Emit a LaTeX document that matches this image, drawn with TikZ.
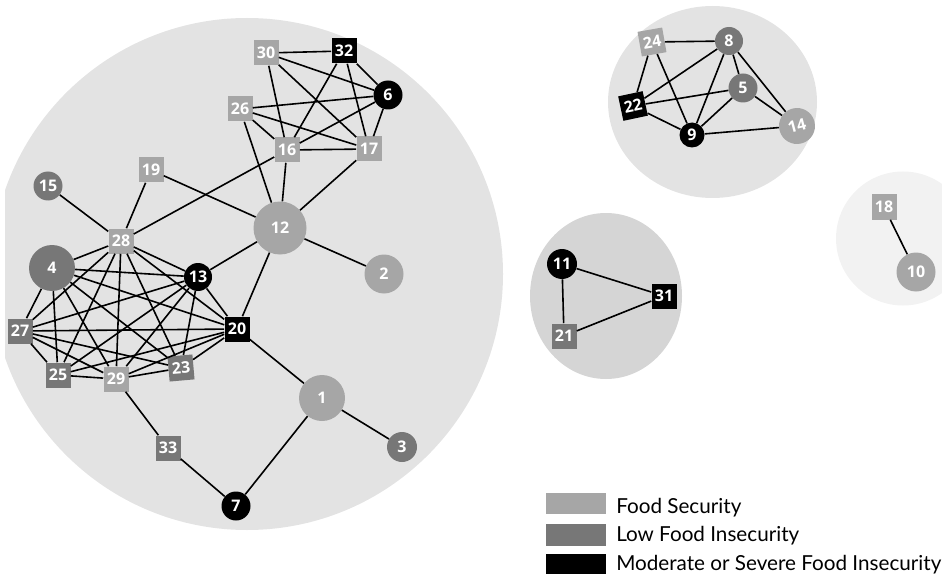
\documentclass[tikz,border=0pt]{standalone}
\usepackage{fontspec}
\setmainfont{Open Sans}
\newfontfamily\legendfont{Lato}

\definecolor{fsec}{HTML}{A6A6A6}
\definecolor{lowfi}{HTML}{777777}
\definecolor{bgmain}{HTML}{E3E3E3}
\definecolor{bgdark}{HTML}{D5D5D5}
\definecolor{bglight}{HTML}{F2F2F2}

\tikzset{
  sq/.style={rectangle, minimum size=18.75pt, inner sep=0pt, text=white,
    font=\bfseries\fontsize{12}{12}\selectfont},
  dot/.style={circle, minimum size=#1, inner sep=0pt, text=white,
    font=\bfseries\fontsize{12}{12}\selectfont},
  link/.style={line width=1.2pt},
  legbox/.style={rectangle, minimum width=45pt, minimum height=16pt, inner sep=0pt},
  legtext/.style={anchor=base west, inner sep=0pt,
    font=\legendfont\fontsize{15.5}{15.5}\selectfont}
}

\begin{document}
\begin{tikzpicture}[x=0.75pt,y=-0.75pt]

\useasboundingbox (0,0) rectangle (942,574);

% groups
\begin{scope}
\clip (5,0) rectangle (942,574);
\fill[color=bgmain] (247,274) circle (256);
\end{scope}
\fill[color=bgmain] (712.5,102) ellipse (104.5 and 96);
\fill[color=bgdark] (606,296) ellipse (76 and 83);
\fill[color=bglight] (903,238.5) circle (67);

% main group
\node[sq, fill=fsec] (n30) at (266,53) {30};
\node[sq, fill=black] (n32) at (344,51) {32};
\node[dot=21.75pt, fill=black] (n6) at (388,95) {6};
\node[sq, fill=fsec] (n26) at (240,109) {26};
\node[sq, fill=fsec] (n16) at (287,150) {16};
\node[sq, fill=fsec] (n17) at (369,149) {17};
\node[sq, fill=fsec] (n19) at (151,170) {19};
\node[dot=21.75pt, fill=lowfi] (n15) at (48,186) {15};
\node[dot=39.75pt, fill=fsec] (n12) at (280,228) {12};
\node[sq, fill=fsec] (n28) at (121,241) {28};
\node[dot=29.25pt, fill=fsec] (n2) at (384,274) {2};
\node[dot=34.5pt, fill=lowfi] (n4) at (52,268) {4};
\node[dot=21pt, fill=black] (n13) at (198,277) {13};
\node[sq, fill=lowfi] (n27) at (20,331) {27};
\node[sq, fill=black] (n20) at (237,329) {20};
\node[sq, fill=lowfi] (n25) at (58,375) {25};
\node[sq, fill=fsec] (n29) at (116,379) {29};
\node[sq, fill=lowfi, rotate=5] (n23) at (181,368) {23};
\node[dot=34.5pt, fill=fsec] (n1) at (322,398) {1};
\node[dot=22.5pt, fill=lowfi] (n3) at (402,447) {3};
\node[sq, fill=lowfi] (n33) at (168,448) {33};
\node[dot=21.75pt, fill=black] (n7) at (236,506) {7};

% second group
\node[sq, fill=fsec, rotate=10] (n24) at (652,42) {24};
\node[dot=21pt, fill=lowfi] (n8) at (729,41) {8};
\node[dot=21.75pt, fill=lowfi] (n5) at (743,88) {5};
\node[sq, fill=black, rotate=12] (n22) at (633,106) {22};
\node[dot=18.75pt, fill=black] (n9) at (692,135) {9};
\node[dot=27pt, fill=fsec, rotate=15] (n14) at (797,126) {14};

% third group
\node[dot=22.5pt, fill=black] (n11) at (562,264) {11};
\node[sq, fill=black] (n31) at (664,296) {31};
\node[sq, fill=lowfi] (n21) at (564,336) {21};

% fourth group
\node[sq, fill=fsec] (n18) at (884,207) {18};
\node[dot=29.25pt, fill=fsec] (n10) at (916,272) {10};

% links of the main group
\draw[link] (n30) -- (n32);
\draw[link] (n30) -- (n6);
\draw[link] (n30) -- (n17);
\draw[link] (n30) -- (n16);
\draw[link] (n32) -- (n6);
\draw[link] (n32) -- (n17);
\draw[link] (n32) -- (n16);
\draw[link] (n26) -- (n6);
\draw[link] (n26) -- (n17);
\draw[link] (n26) -- (n16);
\draw[link] (n26) -- (n12);
\draw[link] (n6) -- (n16);
\draw[link] (n6) -- (n17);
\draw[link] (n16) -- (n17);
\draw[link] (n16) -- (n12);
\draw[link] (n16) -- (n28);
\draw[link] (n17) -- (n12);
\draw[link] (n19) -- (n28);
\draw[link] (n19) -- (n12);
\draw[link] (n15) -- (n28);
\draw[link] (n12) -- (n13);
\draw[link] (n12) -- (n2);
\draw[link] (n12) -- (n20);
\draw[link] (n20) -- (n1);
\draw[link] (n1) -- (n3);
\draw[link] (n1) -- (n7);
\draw[link] (n7) -- (n33);
\draw[link] (n33) -- (n29);

\draw[link] (n28) -- (n4);
\draw[link] (n28) -- (n13);
\draw[link] (n28) -- (n20);
\draw[link] (n28) -- (n27);
\draw[link] (n28) -- (n25);
\draw[link] (n28) -- (n29);
\draw[link] (n28) -- (n23);
\draw[link] (n4) -- (n13);
\draw[link] (n4) -- (n20);
\draw[link] (n4) -- (n27);
\draw[link] (n4) -- (n25);
\draw[link] (n4) -- (n29);
\draw[link] (n4) -- (n23);
\draw[link] (n13) -- (n20);
\draw[link] (n13) -- (n27);
\draw[link] (n13) -- (n25);
\draw[link] (n13) -- (n29);
\draw[link] (n13) -- (n23);
\draw[link] (n20) -- (n27);
\draw[link] (n20) -- (n25);
\draw[link] (n20) -- (n29);
\draw[link] (n20) -- (n23);
\draw[link] (n27) -- (n25);
\draw[link] (n27) -- (n29);
\draw[link] (n27) -- (n23);
\draw[link] (n25) -- (n29);
\draw[link] (n29) -- (n23);

% links of the other groups
\draw[link] (n24) -- (n8);
\draw[link] (n24) -- (n22);
\draw[link] (n24) -- (n9);
\draw[link] (n8) -- (n22);
\draw[link] (n8) -- (n9);
\draw[link] (n8) -- (n5);
\draw[link] (n8) -- (n14);
\draw[link] (n22) -- (n5);
\draw[link] (n22) -- (n9);
\draw[link] (n5) -- (n9);
\draw[link] (n5) -- (n14);
\draw[link] (n9) -- (n14);

\draw[link] (n11) -- (n31);
\draw[link] (n11) -- (n21);
\draw[link] (n21) -- (n31);

\draw[link] (n18) -- (n10);

% legend
\node[legbox, fill=fsec] (lgfs) at (576,503.5) {};
\node[legbox, fill=lowfi] (lglow) at (576,535) {};
\node[legbox, fill=black] (lgsev) at (576,564.5) {};
\node[legtext] (txfs) at (616,513) {Food Security};
\node[legtext] (txlow) at (616,541.5) {Low Food Insecurity};
\node[legtext] (txsev) at (616,570) {Moderate or Severe Food Insecurity};

\end{tikzpicture}
\end{document}
